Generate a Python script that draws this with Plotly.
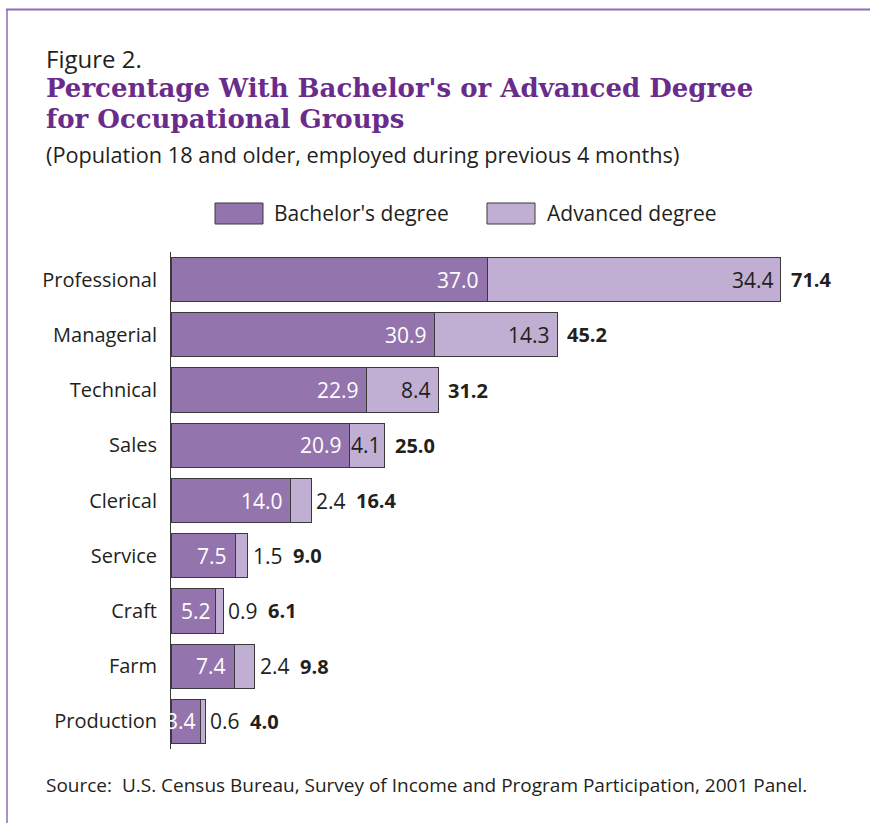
import plotly.graph_objects as go

# occupational groups, top to bottom
groups = ["Professional", "Managerial", "Technical", "Sales", "Clerical",
          "Service", "Craft", "Farm", "Production"]
bachelor = [37.0, 30.9, 22.9, 20.9, 14.0, 7.5, 5.2, 7.4, 3.4]
advanced = [34.4, 14.3, 8.4, 4.1, 2.4, 1.5, 0.9, 2.4, 0.6]
totals = [71.4, 45.2, 31.2, 25.0, 16.4, 9.0, 6.1, 9.8, 4.0]

BACH_COLOR = "#9474ad"
ADV_COLOR = "#c1afd3"
TITLE_PURPLE = "#6a2c8c"
FRAME_PURPLE = "#8e6db2"
TEXT = "#231f20"
SANS = "Open Sans, sans-serif"

# plot area in pixels (870 x 823 page)
W, H = 870, 823
L, R, T, B = 171, 25, 252, 74
PW, PH = W - L - R, H - T - B
XMAX = PW / 8.543


def px(x):
    return (x - L) / PW


def py(y):
    return (H - B - y) / PH


fig = go.Figure()
fig.add_bar(y=groups, x=bachelor, orientation="h", name="Bachelor's degree",
            marker=dict(color=BACH_COLOR, line=dict(color="#3a3a3a", width=1)))
fig.add_bar(y=groups, x=advanced, orientation="h", name="Advanced degree",
            marker=dict(color=ADV_COLOR, line=dict(color="#3a3a3a", width=1)))

ann = []
for g, b, a, t in zip(groups, bachelor, advanced, totals):
    small = b < 6
    ann.append(dict(x=b, y=g, text=f"{b:.1f}", xanchor="right", xshift=-2 if small else -6,
                    showarrow=False, font=dict(family=SANS, size=21, color="white")))
    inside = a >= 4
    if inside:
        ann.append(dict(x=t, y=g, text=f"{a:.1f}", xanchor="right", xshift=-2 if a < 5 else -5,
                        showarrow=False, font=dict(family=SANS, size=21, color=TEXT)))
        shift = 8
    else:
        ann.append(dict(x=t, y=g, text=f"{a:.1f}", xanchor="left", xshift=3,
                        showarrow=False, font=dict(family=SANS, size=21, color=TEXT)))
        shift = 43
    ann.append(dict(x=t, y=g, text=f"<b>{t:.1f}</b>", xanchor="left", xshift=shift,
                    showarrow=False, font=dict(family=SANS, size=20, color=TEXT)))

# titles and source
ann += [
    dict(x=px(44), y=py(58), xref="paper", yref="paper", xanchor="left", yanchor="middle",
         text="Figure 2.", showarrow=False, font=dict(family=SANS, size=24, color=TEXT)),
    dict(x=px(44), y=py(88.5), xref="paper", yref="paper", xanchor="left", yanchor="middle",
         text="<b>Percentage With Bachelor's or Advanced Degree</b>", showarrow=False,
         font=dict(family="DejaVu Serif, serif", size=26, color=TITLE_PURPLE)),
    dict(x=px(44), y=py(118.5), xref="paper", yref="paper", xanchor="left", yanchor="middle",
         text="<b>for Occupational Groups</b>", showarrow=False,
         font=dict(family="DejaVu Serif, serif", size=26, color=TITLE_PURPLE)),
    dict(x=px(44), y=py(154), xref="paper", yref="paper", xanchor="left", yanchor="middle",
         text="(Population 18 and older, employed during previous 4 months)",
         showarrow=False, font=dict(family=SANS, size=21.7, color=TEXT)),
    dict(x=px(44), y=py(785), xref="paper", yref="paper", xanchor="left", yanchor="middle",
         text="Source:  U.S. Census Bureau, Survey of Income and Program Participation, 2001 Panel.",
         showarrow=False, font=dict(family=SANS, size=19, color=TEXT)),
    dict(x=px(272), y=py(213), xref="paper", yref="paper", xanchor="left", yanchor="middle",
         text="Bachelor's degree", showarrow=False, font=dict(family=SANS, size=21, color=TEXT)),
    dict(x=px(545), y=py(213), xref="paper", yref="paper", xanchor="left", yanchor="middle",
         text="Advanced degree", showarrow=False, font=dict(family=SANS, size=21, color=TEXT)),
]

shapes = [
    # legend swatches
    dict(type="rect", xref="paper", yref="paper", x0=px(215), x1=px(263), y0=py(203), y1=py(224),
         fillcolor=BACH_COLOR, line=dict(color="#3a3a3a", width=1)),
    dict(type="rect", xref="paper", yref="paper", x0=px(487), x1=px(535), y0=py(203), y1=py(224),
         fillcolor=ADV_COLOR, line=dict(color="#3a3a3a", width=1)),
    # page frame
    dict(type="line", xref="paper", yref="paper", x0=px(6), x1=px(870), y0=py(9.5), y1=py(9.5),
         line=dict(color=FRAME_PURPLE, width=2)),
    dict(type="line", xref="paper", yref="paper", x0=px(7), x1=px(7), y0=py(9.5), y1=py(823),
         line=dict(color=FRAME_PURPLE, width=1.5)),
]

fig.update_layout(
    barmode="stack",
    bargap=0.2,
    width=W, height=H,
    margin=dict(l=L, r=R, t=T, b=B),
    paper_bgcolor="white",
    plot_bgcolor="white",
    showlegend=False,
    annotations=ann,
    shapes=shapes,
    font=dict(family=SANS, color=TEXT),
)
fig.update_xaxes(range=[0, XMAX], visible=False, fixedrange=True)
fig.update_yaxes(categoryorder="array", categoryarray=groups, autorange="reversed",
                 showline=True, linecolor="#3a3a3a", linewidth=1, ticks="",
                 ticklabelstandoff=9, showgrid=False, zeroline=False,
                 tickfont=dict(family=SANS, size=20, color=TEXT))

fig.write_html("out.html", config={"displayModeBar": False},
               post_script="document.body.style.margin='0px';")
